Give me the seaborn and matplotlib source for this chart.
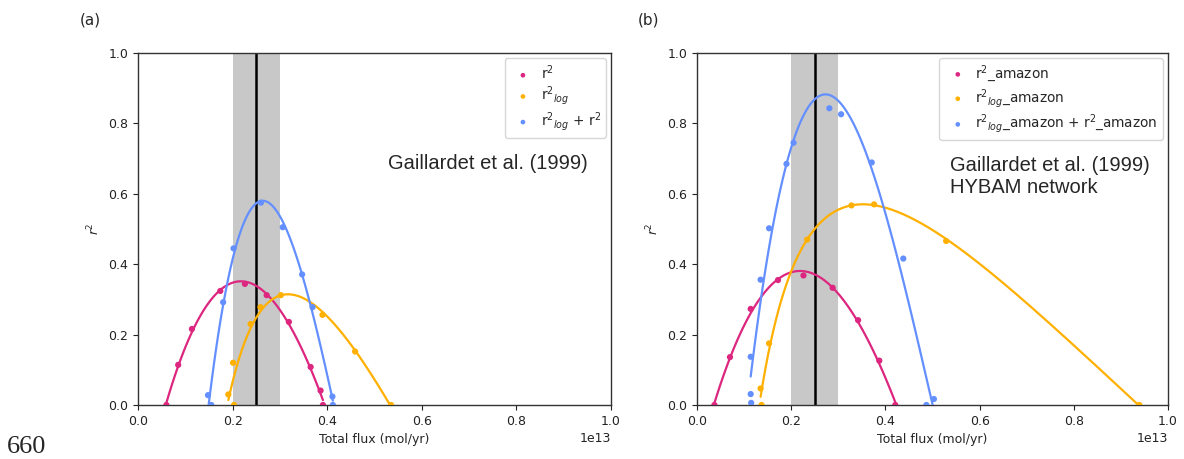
import numpy as np
import pandas as pd
import matplotlib
matplotlib.use("Agg")
import matplotlib.pyplot as plt
import seaborn as sns

# ---------------- data (flux in units of 1e13 mol/yr) ----------------
a_r2_x = [0.060, 0.085, 0.114, 0.174, 0.226, 0.272, 0.319, 0.365, 0.386, 0.391]
a_r2_y = [0.0, 0.114, 0.216, 0.324, 0.344, 0.312, 0.236, 0.108, 0.041, 0.0]
a_log_x = [0.191, 0.201, 0.203, 0.238, 0.259, 0.302, 0.390, 0.459, 0.535]
a_log_y = [0.030, 0.120, 0.0, 0.230, 0.278, 0.312, 0.256, 0.152, 0.0]
a_sum_x = [0.148, 0.155, 0.180, 0.202, 0.260, 0.306, 0.347, 0.369, 0.411, 0.412]
a_sum_y = [0.028, 0.0, 0.292, 0.445, 0.575, 0.505, 0.371, 0.278, 0.024, 0.0]

b_r2_x = [0.037, 0.070, 0.114, 0.172, 0.226, 0.288, 0.342, 0.387, 0.421]
b_r2_y = [0.0, 0.136, 0.273, 0.355, 0.368, 0.333, 0.241, 0.126, 0.0]
b_log_x = [0.135, 0.137, 0.153, 0.234, 0.328, 0.376, 0.529, 0.939]
b_log_y = [0.047, 0.0, 0.175, 0.470, 0.567, 0.570, 0.466, 0.0]
b_sum_x = [0.114, 0.114, 0.115, 0.135, 0.153, 0.190, 0.205, 0.281, 0.306, 0.371, 0.438, 0.487, 0.503]
b_sum_y = [0.137, 0.031, 0.006, 0.356, 0.502, 0.685, 0.745, 0.843, 0.826, 0.689, 0.416, 0.0, 0.017]

labels_a = [r"r$^2$", r"r$^2$$_{log}$", r"r$^2$$_{log}$ + r$^2$"]
labels_b = [r"r$^2$_amazon", r"r$^2$$_{log}$_amazon", r"r$^2$$_{log}$_amazon + r$^2$_amazon"]
band = [0.2, 0.3]
ref_line = 0.25
SCALE = 1e13

colors = ["#DC267F", "#FFB000", "#648FFF"]
# fit type per series: (polynomial order, fit in log-x space?)
fits = [(3, False), (2, True), (3, False)]

sns.set_style("ticks")
plt.rcParams["font.family"] = ["DejaVu Sans"]
plt.rcParams["axes.edgecolor"] = "#333333"

fig = plt.figure(figsize=(11.84, 4.59), dpi=100)
ax_a = fig.add_axes([138/1184, 1-405/459, 473/1184, 352/459])
ax_b = fig.add_axes([697/1184, 1-405/459, 471/1184, 352/459])


def draw(ax, series, labels):
    ax.axvspan(band[0]*SCALE, band[1]*SCALE, color="#c8c8c8", lw=0, zorder=0)
    ax.axvline(ref_line*SCALE, color="black", lw=1.8, zorder=1)
    for (xs, ys), lab, col, (od, logfit) in zip(series, labels, colors, fits):
        xs = np.asarray(xs, float)
        ys = np.asarray(ys, float)
        df = pd.DataFrame({"x": xs*SCALE, "y": ys})
        if logfit:
            coef = np.polyfit(np.log(xs), ys, od)
            grid = np.linspace(xs.min(), xs.max(), 300)
            fdf = pd.DataFrame({"x": grid*SCALE, "y": np.polyval(coef, np.log(grid))})
            sns.lineplot(data=fdf, x="x", y="y", ax=ax, color=col, lw=1.6,
                         zorder=3, legend=False)
        else:
            sns.regplot(data=df, x="x", y="y", ax=ax, order=od, ci=None,
                        scatter=False, truncate=True,
                        line_kws=dict(color=col, lw=1.6, zorder=3))
        sns.scatterplot(data=df, x="x", y="y", ax=ax, color=col, s=20,
                        edgecolor="none", label=lab, zorder=4)
    ax.set_xlim(0, 1e13)
    ax.set_ylim(0, 1.0)
    ax.set_xticks(np.arange(0, 1.01, 0.2)*SCALE)
    ax.set_yticks(np.arange(0, 1.01, 0.2))
    ax.tick_params(labelsize=9, length=3.5, width=0.8, colors="#222222")
    ax.set_xlabel("Total flux (mol/yr)", fontsize=9)
    ax.set_ylabel(r"$r^2$", fontsize=9)
    ax.xaxis.get_offset_text().set_fontsize(9)
    for sp in ax.spines.values():
        sp.set_visible(True)
        sp.set_linewidth(1.0)
    leg = ax.legend(loc="upper right", fontsize=9.8, markerscale=0.75,
                    frameon=True, borderpad=0.35, labelspacing=0.2,
                    handletextpad=0.3, handlelength=2.0, fancybox=True,
                    borderaxespad=0.4)
    leg.get_frame().set_edgecolor("#cccccc")


draw(ax_a, [(a_r2_x, a_r2_y), (a_log_x, a_log_y), (a_sum_x, a_sum_y)], labels_a)
draw(ax_b, [(b_r2_x, b_r2_y), (b_log_x, b_log_y), (b_sum_x, b_sum_y)], labels_b)

ax_a.text(0.528, 0.685, "Gaillardet et al. (1999)", transform=ax_a.transAxes,
          fontsize=14.5, family="Liberation Sans", va="center")
ax_b.text(0.537, 0.648, "Gaillardet et al. (1999)\nHYBAM network", transform=ax_b.transAxes,
          fontsize=14.5, family="Liberation Sans", va="center", linespacing=1.2)

fig.text(80/1184, 1-20/459, "(a)", fontsize=11, va="center")
fig.text(638/1184, 1-20/459, "(b)", fontsize=11, va="center")
fig.text(7/1184, 1-453/459, "660", fontsize=19, family="Liberation Serif", va="baseline")

fig.savefig("out.png", dpi=100)
